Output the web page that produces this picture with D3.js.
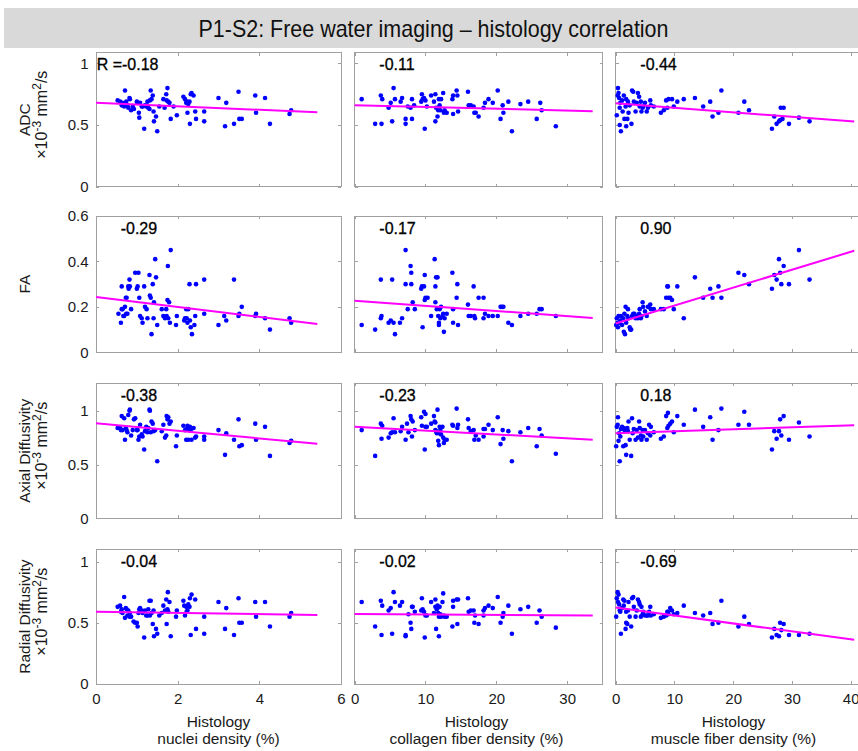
<!DOCTYPE html>
<html>
<head>
<meta charset="utf-8">
<script src="https://cdn.jsdelivr.net/npm/d3@7"></script>
<style>
  html, body { margin: 0; padding: 0; background: #fff; }
  svg { display: block; font-family: "Liberation Sans", Arial, Helvetica, sans-serif; }
</style>
</head>
<body>
<svg id="chart" width="858" height="751"></svg>
<script>
// --- Data ---
const title = 'P1-S2: Free water imaging \u2013 histology correlation';
const rowLabels = ['ADC', 'FA', 'Axial Diffusivity', 'Radial Diffusivity'];
const rowHasUnits = [true, false, true, true];
const colLabels = ['nuclei density (%)', 'collagen fiber density (%)', 'muscle fiber density (%)'];

const xDomains = [[0, 6], [0, 35], [0, 42.2]];
const xTicks = [[0, 2, 4, 6], [0, 10, 20, 30], [0, 10, 20, 30, 40]];
const yDomains = [[0, 1.087], [0, 0.6], [0, 1.255], [0, 1.1]];
const yTicks = [[0, 0.5, 1], [0, 0.2, 0.4, 0.6], [0, 0.5, 1], [0, 0.5, 1]];

const rValues = [
  [-0.18, -0.11, -0.44],
  [-0.29, -0.17, 0.90],
  [-0.38, -0.23, 0.18],
  [-0.04, -0.02, -0.69]
];
// regression line: value at x = 0 and at x = fitXEnd
const fitXEnd = [5.42, 33.6, 40.6];
const fitY0 = [
  [0.681, 0.660, 0.677],
  [0.243, 0.227, 0.127],
  [0.883, 0.852, 0.790],
  [0.589, 0.571, 0.624]
];
const fitY1 = [
  [0.603, 0.613, 0.528],
  [0.125, 0.151, 0.447],
  [0.693, 0.730, 0.865],
  [0.564, 0.560, 0.361]
];

const adcNuclei = [[0.53,0.70],[0.59,0.69],[0.63,0.66],[0.65,0.68],[0.69,0.65],[0.71,0.78],[0.74,0.69],[0.77,0.66],[0.79,0.64],[0.82,0.72],[0.83,0.71],[0.86,0.62],[0.90,0.65],[0.93,0.63],[1.00,0.69],[1.02,0.68],[1.05,0.60],[1.06,0.56],[1.08,0.68],[1.12,0.65],[1.14,0.65],[1.18,0.47],[1.20,0.66],[1.23,0.65],[1.26,0.69],[1.28,0.64],[1.31,0.63],[1.32,0.70],[1.34,0.78],[1.36,0.71],[1.39,0.74],[1.41,0.61],[1.42,0.53],[1.47,0.57],[1.50,0.45],[1.55,0.65],[1.65,0.71],[1.68,0.64],[1.72,0.75],[1.73,0.70],[1.75,0.80],[1.77,0.69],[1.80,0.68],[1.83,0.55],[1.90,0.65],[1.98,0.58],[2.14,0.73],[2.18,0.71],[2.21,0.68],[2.22,0.69],[2.24,0.60],[2.26,0.67],[2.29,0.69],[2.30,0.51],[2.32,0.75],[2.34,0.76],[2.39,0.74],[2.43,0.61],[2.45,0.55],[2.65,0.61],[2.65,0.53],[3.00,0.72],[3.16,0.49],[3.19,0.68],[3.38,0.51],[3.49,0.77],[3.51,0.55],[3.57,0.55],[3.90,0.74],[3.92,0.60],[4.14,0.72],[4.26,0.51],[4.74,0.59],[4.78,0.62]];
const adcCollagen = [[1.0,0.71],[2.9,0.51],[3.7,0.74],[3.8,0.51],[3.9,0.71],[4.8,0.64],[5.1,0.68],[5.3,0.53],[5.5,0.80],[5.7,0.71],[6.5,0.69],[6.7,0.72],[7.2,0.55],[7.2,0.51],[7.5,0.65],[7.9,0.64],[8.1,0.71],[8.1,0.55],[8.4,0.66],[9.4,0.69],[9.5,0.75],[9.6,0.71],[9.8,0.72],[9.9,0.47],[10.0,0.70],[10.2,0.65],[10.8,0.74],[11.2,0.69],[11.4,0.53],[11.4,0.75],[11.5,0.64],[11.7,0.57],[11.8,0.62],[11.9,0.71],[12.0,0.66],[12.1,0.62],[12.2,0.71],[12.5,0.76],[12.6,0.60],[12.7,0.62],[13.0,0.60],[13.8,0.71],[13.9,0.74],[13.9,0.59],[14.4,0.78],[14.5,0.74],[14.6,0.61],[16.0,0.77],[16.1,0.66],[16.4,0.66],[16.8,0.65],[16.9,0.60],[17.1,0.60],[17.5,0.57],[18.2,0.64],[18.4,0.68],[18.9,0.71],[19.5,0.68],[20.2,0.78],[20.6,0.55],[20.9,0.66],[21.0,0.60],[21.7,0.69],[22.2,0.45],[23.4,0.67],[24.5,0.69],[25.7,0.55],[26.2,0.68],[26.4,0.62],[28.4,0.49]];
const adcMuscle = [[0.2,0.58],[0.35,0.74],[0.4,0.80],[0.5,0.76],[0.6,0.72],[0.7,0.64],[0.7,0.50],[0.8,0.68],[0.9,0.45],[1.1,0.70],[1.2,0.61],[1.4,0.74],[1.5,0.55],[1.7,0.65],[1.8,0.49],[1.8,0.71],[2.0,0.55],[2.1,0.69],[2.2,0.60],[2.4,0.66],[2.7,0.51],[2.8,0.78],[3.0,0.77],[3.1,0.69],[3.4,0.61],[3.6,0.68],[3.8,0.76],[4.0,0.73],[4.1,0.65],[4.3,0.69],[4.4,0.61],[4.6,0.64],[4.7,0.65],[5.0,0.68],[5.3,0.61],[5.5,0.64],[5.9,0.70],[6.0,0.66],[6.5,0.65],[7.7,0.60],[8.2,0.62],[8.6,0.70],[8.8,0.64],[9.0,0.71],[9.6,0.71],[9.9,0.65],[10.5,0.69],[11.6,0.71],[13.5,0.72],[14.9,0.65],[16.1,0.69],[16.5,0.57],[17.5,0.60],[18.0,0.78],[20.9,0.60],[21.9,0.69],[22.7,0.62],[26.6,0.47],[27.0,0.57],[27.4,0.51],[27.8,0.53],[28.0,0.54],[28.1,0.64],[28.4,0.55],[28.6,0.64],[29.5,0.51],[31.2,0.56],[33.0,0.53]];

const faNuclei = [[0.55,0.17],[0.61,0.13],[0.63,0.29],[0.63,0.19],[0.65,0.19],[0.67,0.16],[0.69,0.16],[0.71,0.20],[0.73,0.24],[0.74,0.17],[0.75,0.24],[0.77,0.17],[0.79,0.29],[0.80,0.28],[0.82,0.32],[0.83,0.29],[0.86,0.19],[0.96,0.35],[1.00,0.28],[1.02,0.29],[1.04,0.35],[1.06,0.24],[1.08,0.16],[1.12,0.15],[1.14,0.13],[1.18,0.29],[1.20,0.20],[1.24,0.19],[1.26,0.15],[1.31,0.34],[1.32,0.25],[1.34,0.24],[1.36,0.08],[1.39,0.30],[1.41,0.15],[1.42,0.22],[1.45,0.41],[1.47,0.33],[1.50,0.12],[1.61,0.19],[1.65,0.16],[1.69,0.15],[1.72,0.19],[1.73,0.16],[1.75,0.23],[1.76,0.38],[1.77,0.15],[1.79,0.22],[1.81,0.13],[1.83,0.45],[1.96,0.12],[1.98,0.16],[2.16,0.14],[2.18,0.15],[2.21,0.19],[2.22,0.15],[2.24,0.13],[2.26,0.19],[2.29,0.30],[2.30,0.14],[2.32,0.11],[2.35,0.08],[2.41,0.12],[2.43,0.16],[2.45,0.30],[2.65,0.17],[2.65,0.32],[3.00,0.12],[3.14,0.16],[3.19,0.14],[3.38,0.32],[3.49,0.16],[3.51,0.17],[3.57,0.20],[3.90,0.16],[3.92,0.17],[4.14,0.15],[4.26,0.10],[4.74,0.15],[4.78,0.13]];
const faCollagen = [[1.0,0.12],[2.9,0.10],[3.7,0.32],[3.7,0.15],[3.8,0.16],[4.8,0.13],[5.1,0.14],[5.3,0.32],[5.5,0.13],[5.7,0.08],[6.4,0.13],[6.7,0.15],[7.2,0.45],[7.2,0.30],[7.5,0.19],[7.9,0.38],[8.0,0.35],[8.0,0.30],[8.2,0.22],[8.5,0.19],[9.4,0.28],[9.5,0.29],[9.6,0.11],[9.8,0.29],[9.9,0.34],[9.9,0.23],[10.0,0.24],[10.3,0.24],[10.8,0.16],[11.3,0.41],[11.4,0.29],[11.4,0.22],[11.5,0.33],[11.6,0.19],[11.7,0.33],[11.8,0.16],[11.9,0.13],[11.9,0.12],[12.0,0.19],[12.1,0.15],[12.2,0.20],[12.4,0.16],[12.5,0.17],[12.6,0.09],[12.7,0.15],[13.0,0.17],[13.8,0.35],[13.9,0.19],[13.9,0.13],[14.4,0.24],[14.5,0.30],[14.6,0.12],[16.0,0.21],[16.1,0.16],[16.4,0.16],[16.8,0.29],[16.9,0.16],[17.0,0.15],[17.5,0.24],[18.2,0.15],[18.2,0.24],[18.4,0.17],[18.9,0.16],[19.5,0.16],[20.2,0.16],[20.6,0.20],[20.8,0.20],[21.0,0.20],[21.7,0.13],[22.2,0.12],[23.4,0.16],[24.5,0.17],[25.7,0.17],[26.1,0.19],[26.4,0.19],[28.4,0.16]];
const faMuscle = [[0.1,0.12],[0.2,0.15],[0.35,0.13],[0.4,0.11],[0.5,0.16],[0.6,0.13],[0.8,0.14],[0.9,0.16],[1.1,0.12],[1.3,0.15],[1.4,0.09],[1.5,0.17],[1.6,0.08],[1.7,0.20],[1.8,0.13],[2.0,0.16],[2.1,0.19],[2.2,0.15],[2.4,0.11],[2.5,0.10],[2.65,0.10],[2.8,0.16],[3.0,0.17],[3.2,0.17],[3.4,0.15],[3.6,0.16],[3.8,0.15],[4.0,0.17],[4.1,0.19],[4.3,0.15],[4.4,0.16],[4.6,0.22],[4.7,0.20],[5.0,0.18],[5.3,0.16],[5.5,0.20],[5.9,0.21],[6.0,0.19],[6.5,0.19],[7.7,0.19],[8.2,0.19],[8.6,0.24],[8.8,0.29],[8.9,0.29],[9.0,0.24],[9.3,0.24],[9.6,0.23],[9.9,0.19],[10.5,0.29],[11.6,0.15],[13.5,0.33],[14.9,0.24],[16.1,0.28],[16.5,0.24],[17.5,0.29],[18.0,0.24],[20.9,0.35],[21.9,0.34],[22.7,0.30],[26.6,0.28],[27.0,0.34],[27.4,0.32],[27.8,0.41],[28.0,0.35],[28.2,0.30],[28.6,0.38],[29.5,0.30],[31.2,0.45],[33.0,0.32]];

const adNuclei = [[0.53,0.84],[0.59,0.84],[0.61,0.82],[0.63,0.95],[0.65,0.82],[0.69,0.93],[0.71,0.73],[0.73,0.84],[0.75,0.82],[0.77,0.80],[0.79,0.96],[0.82,1.00],[0.83,1.01],[0.86,0.77],[0.90,0.82],[0.93,0.92],[0.96,0.93],[1.00,0.82],[1.02,0.82],[1.04,0.73],[1.06,0.76],[1.08,0.87],[1.12,0.78],[1.14,0.76],[1.18,0.64],[1.20,0.81],[1.23,0.85],[1.26,0.80],[1.28,0.84],[1.31,1.01],[1.32,1.00],[1.34,0.80],[1.36,0.90],[1.39,0.88],[1.41,0.81],[1.42,0.82],[1.45,0.82],[1.50,0.53],[1.61,0.81],[1.65,0.87],[1.69,0.75],[1.72,0.77],[1.73,0.95],[1.75,0.92],[1.77,0.94],[1.80,0.88],[1.83,0.90],[1.96,0.67],[1.98,0.77],[2.14,0.86],[2.18,0.82],[2.21,0.73],[2.22,0.83],[2.24,0.86],[2.26,0.73],[2.29,0.82],[2.30,0.85],[2.32,0.82],[2.34,0.73],[2.39,0.84],[2.43,0.75],[2.45,0.76],[2.65,0.73],[2.65,0.76],[3.00,0.82],[3.16,0.59],[3.19,0.79],[3.38,0.73],[3.49,0.92],[3.51,0.67],[3.57,0.68],[3.90,0.88],[3.92,0.73],[4.14,0.85],[4.26,0.58],[4.74,0.70],[4.78,0.72]];
const adCollagen = [[1.0,0.82],[2.9,0.58],[3.7,0.88],[3.8,0.74],[3.9,0.86],[4.8,0.75],[5.1,0.79],[5.3,0.80],[5.5,0.93],[5.7,0.80],[6.5,0.81],[6.7,0.85],[7.2,0.73],[7.4,0.88],[7.6,0.80],[7.9,0.95],[8.0,0.92],[8.1,0.76],[8.2,0.90],[8.5,0.82],[9.4,0.94],[9.5,0.86],[9.8,0.99],[9.9,0.64],[10.0,0.97],[10.0,0.85],[10.2,0.85],[10.8,0.88],[11.2,0.95],[11.3,0.90],[11.4,0.82],[11.4,0.89],[11.5,0.81],[11.6,0.79],[11.7,1.01],[11.8,0.72],[11.9,0.68],[11.9,0.79],[12.0,0.85],[12.1,0.82],[12.2,0.78],[12.4,0.85],[12.5,0.75],[12.6,0.70],[12.7,0.73],[13.0,0.73],[13.8,0.87],[13.9,0.86],[14.4,1.02],[14.5,0.84],[14.6,0.87],[16.0,0.92],[16.1,0.84],[16.4,0.81],[16.8,0.82],[16.9,0.73],[17.1,0.77],[17.5,0.73],[18.2,0.83],[18.2,0.76],[18.4,0.83],[18.9,0.87],[19.5,0.82],[20.2,0.94],[20.6,0.69],[20.9,0.82],[21.0,0.74],[21.7,0.81],[22.2,0.53],[23.4,0.80],[24.5,0.84],[25.7,0.67],[26.1,0.83],[26.4,0.77],[28.4,0.60]];
const adMuscle = [[0.1,0.67],[0.2,0.85],[0.35,0.87],[0.4,0.94],[0.5,0.72],[0.6,0.79],[0.7,0.53],[0.8,0.76],[0.9,0.83],[1.1,0.85],[1.3,0.67],[1.4,0.84],[1.5,0.82],[1.7,0.68],[1.8,0.59],[2.0,0.84],[2.1,0.81],[2.2,0.90],[2.4,0.73],[2.65,0.58],[2.8,0.93],[2.9,0.79],[3.1,0.83],[3.4,0.73],[3.6,0.82],[3.8,0.75],[4.0,0.90],[4.1,0.84],[4.3,0.77],[4.4,0.73],[4.6,0.82],[4.7,0.76],[5.0,0.82],[5.3,0.73],[5.5,0.79],[5.7,0.87],[5.9,0.77],[6.0,0.85],[6.5,0.80],[7.7,0.74],[8.2,0.76],[8.6,0.95],[8.8,0.84],[8.9,0.98],[9.0,0.86],[9.3,0.88],[9.6,0.90],[9.9,0.80],[10.5,0.95],[11.6,0.87],[13.5,1.01],[14.9,0.85],[16.1,0.94],[16.5,0.73],[17.5,0.82],[18.0,1.02],[20.9,0.87],[21.9,0.99],[22.7,0.87],[26.6,0.64],[27.0,0.81],[27.4,0.74],[27.8,0.81],[28.0,0.92],[28.2,0.77],[28.6,0.95],[29.5,0.73],[31.2,0.89],[33.0,0.76]];

const rdNuclei = [[0.53,0.63],[0.59,0.64],[0.61,0.59],[0.63,0.61],[0.65,0.58],[0.69,0.71],[0.71,0.54],[0.73,0.62],[0.75,0.61],[0.77,0.56],[0.79,0.60],[0.82,0.55],[0.83,0.58],[0.86,0.55],[0.92,0.51],[0.96,0.50],[1.00,0.50],[1.02,0.47],[1.04,0.58],[1.06,0.61],[1.08,0.62],[1.12,0.60],[1.14,0.58],[1.18,0.38],[1.20,0.60],[1.23,0.56],[1.26,0.56],[1.28,0.61],[1.31,0.68],[1.32,0.56],[1.34,0.68],[1.36,0.58],[1.39,0.49],[1.41,0.60],[1.42,0.39],[1.47,0.45],[1.50,0.41],[1.55,0.56],[1.61,0.58],[1.65,0.64],[1.69,0.60],[1.72,0.69],[1.73,0.49],[1.75,0.61],[1.76,0.75],[1.77,0.59],[1.80,0.67],[1.83,0.39],[1.96,0.55],[1.98,0.60],[2.14,0.68],[2.16,0.64],[2.18,0.56],[2.21,0.63],[2.22,0.59],[2.24,0.60],[2.26,0.65],[2.29,0.63],[2.30,0.70],[2.32,0.40],[2.34,0.73],[2.43,0.69],[2.45,0.45],[2.65,0.41],[2.65,0.55],[3.00,0.67],[3.16,0.45],[3.19,0.62],[3.38,0.40],[3.49,0.70],[3.51,0.50],[3.57,0.50],[3.90,0.67],[3.92,0.55],[4.14,0.67],[4.26,0.47],[4.74,0.55],[4.78,0.58]];
const rdCollagen = [[1.0,0.67],[2.9,0.47],[3.7,0.68],[3.8,0.40],[3.9,0.64],[4.8,0.60],[5.1,0.62],[5.3,0.41],[5.5,0.75],[5.7,0.67],[6.4,0.64],[6.7,0.67],[7.2,0.40],[7.2,0.39],[7.6,0.57],[7.9,0.50],[8.0,0.45],[8.1,0.63],[8.2,0.63],[8.5,0.59],[9.4,0.60],[9.5,0.70],[9.6,0.61],[9.8,0.59],[9.9,0.38],[10.0,0.56],[10.2,0.56],[10.8,0.67],[11.2,0.58],[11.4,0.69],[11.4,0.63],[11.5,0.45],[11.6,0.61],[11.7,0.64],[11.8,0.58],[11.9,0.55],[11.9,0.39],[12.0,0.63],[12.1,0.57],[12.2,0.55],[12.4,0.67],[12.5,0.74],[12.6,0.56],[12.7,0.55],[13.0,0.55],[13.8,0.47],[13.9,0.63],[13.9,0.68],[14.4,0.69],[14.5,0.49],[14.6,0.69],[16.0,0.70],[16.1,0.59],[16.4,0.60],[16.8,0.60],[16.9,0.50],[17.0,0.56],[17.5,0.49],[18.2,0.56],[18.2,0.60],[18.4,0.62],[18.9,0.64],[19.5,0.62],[20.2,0.71],[20.6,0.50],[20.9,0.55],[21.0,0.58],[21.7,0.64],[22.2,0.41],[23.4,0.61],[24.5,0.63],[25.7,0.50],[26.1,0.60],[26.4,0.55],[28.4,0.46]];
const rdMuscle = [[0.1,0.55],[0.2,0.70],[0.35,0.75],[0.4,0.67],[0.5,0.73],[0.6,0.65],[0.7,0.60],[0.8,0.59],[0.9,0.41],[1.1,0.62],[1.3,0.69],[1.4,0.64],[1.5,0.68],[1.7,0.45],[1.8,0.50],[1.8,0.59],[2.0,0.49],[2.1,0.60],[2.2,0.67],[2.4,0.55],[2.65,0.47],[2.8,0.70],[3.0,0.71],[3.1,0.63],[3.4,0.55],[3.6,0.60],[3.8,0.69],[4.0,0.67],[4.1,0.65],[4.3,0.55],[4.4,0.63],[4.6,0.57],[4.7,0.59],[5.0,0.56],[5.3,0.56],[5.5,0.56],[5.7,0.59],[5.9,0.63],[6.0,0.56],[6.5,0.57],[7.7,0.54],[8.2,0.55],[8.6,0.56],[8.8,0.59],[8.9,0.59],[9.0,0.57],[9.3,0.62],[9.6,0.60],[9.9,0.57],[10.5,0.58],[11.6,0.64],[13.5,0.58],[14.9,0.56],[16.1,0.58],[16.5,0.49],[17.5,0.50],[18.0,0.68],[20.9,0.47],[21.9,0.55],[22.7,0.49],[26.6,0.38],[27.0,0.45],[27.4,0.40],[27.8,0.39],[28.0,0.50],[28.2,0.44],[28.6,0.49],[29.5,0.40],[31.2,0.40],[33.0,0.41]];

const panels = [
  [adcNuclei, adcCollagen, adcMuscle],
  [faNuclei, faCollagen, faMuscle],
  [adNuclei, adCollagen, adMuscle],
  [rdNuclei, rdCollagen, rdMuscle]
];

// --- Layout ---
const colX = [96, 354.6, 615.6];
const colW = [245, 248, 248];
const rowY = [52.7, 216, 383.3, 549.3];
const rowH = [134, 136.3, 135, 134.7];
const xLabelCenter = [218.5, 476.5, 733.5];

const COLORS = {
  band: '#d9d9d9',
  box: '#a0a0a0',
  text: '#1a1a1a',
  dot: '#0000ff',
  fit: '#ff00ff'
};

const svg = d3.select('#chart');

// Title band
svg.append('rect')
  .attr('x', 4).attr('y', 8)
  .attr('width', 854).attr('height', 40)
  .attr('fill', COLORS.band);

svg.append('text')
  .attr('x', 433.5).attr('y', 37)
  .attr('text-anchor', 'middle')
  .attr('font-size', '24px')
  .attr('fill', '#111')
  .attr('textLength', 470)
  .attr('lengthAdjust', 'spacingAndGlyphs')
  .text(title);

function styleAxis(g) {
  g.attr('font-family', null).attr('font-size', 15);
  g.select('.domain').remove();
  g.selectAll('.tick line').attr('stroke', COLORS.box).attr('shape-rendering', 'crispEdges');
  g.selectAll('.tick text').attr('fill', COLORS.text);
}

panels.forEach((rowPanels, ri) => {
  rowPanels.forEach((points, ci) => {
    const x0 = colX[ci], x1 = colX[ci] + colW[ci];
    const y0 = rowY[ri], y1 = rowY[ri] + rowH[ri];

    const x = d3.scaleLinear().domain(xDomains[ci]).range([x0, x1]);
    const y = d3.scaleLinear().domain(yDomains[ri]).range([y1, y0]);

    const g = svg.append('g');

    // Box
    g.append('rect')
      .attr('x', x0).attr('y', y0)
      .attr('width', x1 - x0).attr('height', y1 - y0)
      .attr('fill', 'none')
      .attr('stroke', COLORS.box)
      .attr('stroke-width', 1)
      .attr('shape-rendering', 'crispEdges');

    // Inward ticks on all four sides
    g.append('g')
      .attr('transform', `translate(0,${y1})`)
      .call(d3.axisBottom(x).tickValues(xTicks[ci]).tickSize(-3).tickPadding(9.5)
        .tickFormat(ri === panels.length - 1 ? d => d : ''))
      .call(styleAxis);

    g.append('g')
      .attr('transform', `translate(0,${y0})`)
      .call(d3.axisTop(x).tickValues(xTicks[ci]).tickSize(-3).tickFormat(''))
      .call(styleAxis);

    g.append('g')
      .attr('transform', `translate(${x0},0)`)
      .call(d3.axisLeft(y).tickValues(yTicks[ri]).tickSize(-3).tickPadding(7.5)
        .tickFormat(ci === 0 ? d => d : ''))
      .call(styleAxis);

    g.append('g')
      .attr('transform', `translate(${x1},0)`)
      .call(d3.axisRight(y).tickValues(yTicks[ri]).tickSize(-3).tickFormat(''))
      .call(styleAxis);

    // Points
    g.append('g')
      .selectAll('circle')
      .data(points)
      .join('circle')
      .attr('cx', d => x(d[0]))
      .attr('cy', d => y(d[1]))
      .attr('r', 2.3)
      .attr('fill', COLORS.dot);

    // Regression line
    g.append('line')
      .attr('x1', x(0)).attr('y1', y(fitY0[ri][ci]))
      .attr('x2', x(fitXEnd[ci])).attr('y2', y(fitY1[ri][ci]))
      .attr('stroke', COLORS.fit)
      .attr('stroke-width', 2);

    // Correlation coefficient
    const rText = rValues[ri][ci].toFixed(2);
    const first = ri === 0 && ci === 0;
    g.append('text')
      .attr('x', first ? x0 + 0.7 : x0 + 24.7)
      .attr('y', y0 + 17.5)
      .attr('font-size', '16px')
      .attr('fill', '#000')
      .attr('stroke', '#000')
      .attr('stroke-width', 0.3)
      .text(first ? 'R =' + rText : rText);
  });
});

// Y axis labels
rowLabels.forEach((label, ri) => {
  const cy = rowY[ri] + rowH[ri] / 2;
  svg.append('text')
    .attr('transform', `translate(30,${cy}) rotate(-90)`)
    .attr('text-anchor', 'middle')
    .attr('font-size', '15.5px')
    .attr('fill', COLORS.text)
    .text(label);

  if (rowHasUnits[ri]) {
    const t = svg.append('text')
      .attr('transform', `translate(46.5,${cy - 5}) rotate(-90)`)
      .attr('text-anchor', 'middle')
      .attr('font-size', '16px')
      .attr('fill', COLORS.text);
    t.append('tspan').text('\u00d710');
    t.append('tspan').attr('dy', -6).attr('font-size', '12px').text('-3');
    t.append('tspan').attr('dy', 6).text(' mm');
    t.append('tspan').attr('dy', -6).attr('font-size', '12px').text('2');
    t.append('tspan').attr('dy', 6).text('/s');
  }
});

// X axis labels
colLabels.forEach((label, ci) => {
  svg.append('text')
    .attr('x', xLabelCenter[ci]).attr('y', 727)
    .attr('text-anchor', 'middle')
    .attr('font-size', '15.5px')
    .attr('fill', COLORS.text)
    .text('Histology');
  svg.append('text')
    .attr('x', xLabelCenter[ci]).attr('y', 743.5)
    .attr('text-anchor', 'middle')
    .attr('font-size', '15.5px')
    .attr('fill', COLORS.text)
    .text(label);
});
</script>
</body>
</html>
